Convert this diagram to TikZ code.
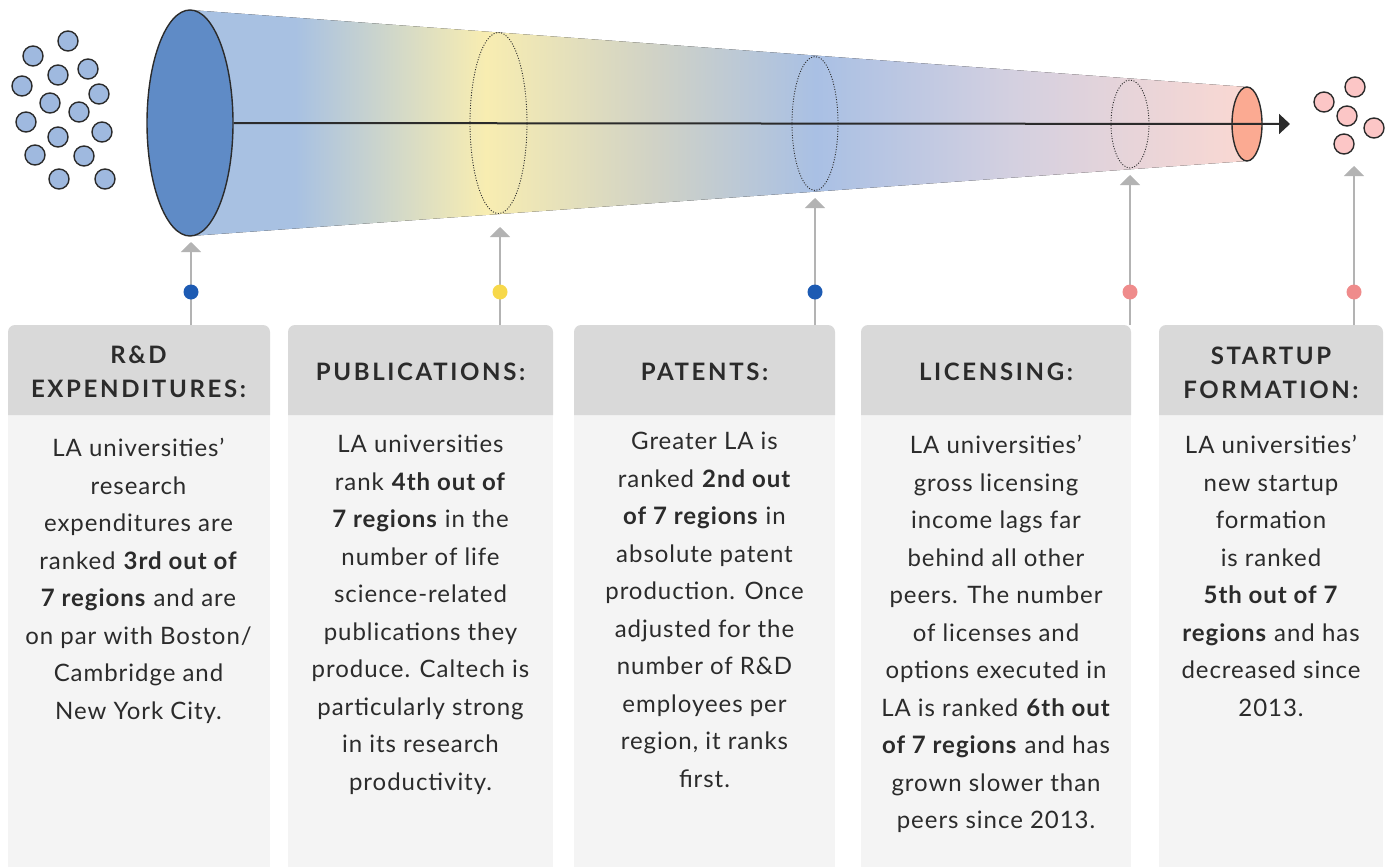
\documentclass[tikz,border=0pt]{standalone}
\usepackage{fontspec}
\setmainfont{Lato}
\usetikzlibrary{arrows.meta,shapes.geometric}
\definecolor{txt}{HTML}{2B2B2B}
\definecolor{hdrbg}{HTML}{D9D9D9}
\definecolor{bodybg}{HTML}{F4F4F4}
\definecolor{bigblue}{HTML}{5F8BC6}
\definecolor{smallblue}{HTML}{9FB9DF}
\definecolor{pinkc}{HTML}{FCC6C6}
\definecolor{salmon}{HTML}{FBAA92}
\definecolor{dotblue}{HTML}{1D5BB3}
\definecolor{dotyellow}{HTML}{F7D84A}
\definecolor{dotpink}{HTML}{EF8B8B}
\definecolor{graycon}{HTML}{B3B3B3}
\definecolor{outl}{HTML}{2B2B2B}
\definecolor{fA}{HTML}{A8C1E2}
\definecolor{fY}{HTML}{F8EDB1}
\definecolor{fM}{HTML}{D0D2C6}
\definecolor{fB}{HTML}{A9C0E4}
\definecolor{fL}{HTML}{D4D0E0}
\definecolor{fP}{HTML}{FAD8D2}
\pgfdeclarehorizontalshading{funnelshade}{100bp}{color(0bp)=(fA); color(25bp)=(fA); color(30bp)=(fA); color(39bp)=(fY); color(47bp)=(fM); color(54.6bp)=(fB); color(64bp)=(fL); color(75bp)=(fP); color(100bp)=(fP)}
\tikzset{
  lcirc/.style={circle, draw=outl, line width=1.4pt, fill=smallblue, minimum size=20pt, inner sep=0pt},
  rcirc/.style={circle, draw=outl, line width=1.4pt, fill=pinkc, minimum size=20pt, inner sep=0pt},
  dotring/.style={ellipse, draw=outl, line width=0.9pt, dash pattern=on 1pt off 1.6pt, inner sep=0pt},
  dotnode/.style={circle, minimum size=15pt, inner sep=0pt},
  con/.style={draw=graycon, line width=1.6pt, -{Triangle[width=20pt,length=10pt]}},
  hdr/.style={font=\fontsize{24}{34}\selectfont\bfseries\addfontfeature{LetterSpace=11}, text=txt, align=center, inner sep=0pt},
  body/.style={font=\fontsize{24}{37.5}\selectfont\addfontfeature{LetterSpace=4}, text=txt, align=center, inner sep=0pt, anchor=north},
}
\begin{document}
\begin{tikzpicture}[x=1pt,y=-1pt]
\useasboundingbox (0,0) rectangle (1389,867);
% funnel
\fill[shading=funnelshade] (190,10) -- (1247,87) -- (1247,161) -- (190,236) -- cycle;
\node[ellipse, draw=outl, line width=1.4pt, fill=bigblue, minimum width=86pt, minimum height=226pt, inner sep=0pt] (big) at (190,123) {};
\node[dotring, minimum width=57pt, minimum height=181pt] (r1) at (498.5,123) {};
\node[dotring, minimum width=46pt, minimum height=134pt] (r2) at (815,123.5) {};
\node[dotring, minimum width=38pt, minimum height=88pt] (r3) at (1130,124) {};
\node[ellipse, draw=outl, line width=1.4pt, fill=salmon, minimum width=30pt, minimum height=74pt, inner sep=0pt] (small) at (1247,124) {};
\coordinate (tipR) at (1290,124);
\draw[draw=outl, line width=2pt, -{Triangle[width=20pt,length=11pt]}] (big.east) -- (tipR);
% circles left
\foreach \x/\y [count=\i] in {68/41,33/56,58/75,88/69,22/86,99/94,50/103,79/112,26/122,102/132,58/137,35/155,84/156,59/179,105/179}
  \node[lcirc] (l\i) at (\x,\y) {};
% circles right
\foreach \x/\y [count=\i] in {1355/87,1324/102,1347/116,1374/128,1344/144}
  \node[rcirc] (rc\i) at (\x,\y) {};
% boxes
\foreach \a/\b/\n in {8/270/1,288/553/2,574/835/3,861/1131/4,1159/1383/5}{
  \fill[bodybg] (\a,415) rectangle (\b,867);
  \fill[hdrbg] (\a,415) [rounded corners=7pt] -- (\a,325) -- (\b,325) [sharp corners] -- (\b,415) -- cycle;
}
% connectors
\foreach \x/\t/\n in {191/242/1,500/227/2,815/198/3,1130/175/4,1354/166/5}{
  \coordinate (c\n) at (\x,325);
  \coordinate (t\n) at (\x,\t);
  \draw[con] (c\n) -- (t\n);
}
\node[dotnode, fill=dotblue] (d1) at (191,292) {};
\node[dotnode, fill=dotyellow] (d2) at (500,292) {};
\node[dotnode, fill=dotblue] (d3) at (815,292) {};
\node[dotnode, fill=dotpink] (d4) at (1130,292) {};
\node[dotnode, fill=dotpink] (d5) at (1354,292) {};
% headers
\node[hdr] (h1) at (138.5,372) {R\&D\\EXPENDITURES:};
\node[hdr] (h2) at (420.5,372) {PUBLICATIONS:};
\node[hdr] (h3) at (704.5,372) {PATENTS:};
\node[hdr] (h4) at (996,372) {LICENSING:};
\node[hdr] (h5) at (1271,373) {STARTUP\\FORMATION:};
% bodies
\node[body] (b1) at (138.5,438) {LA universities’\\research\\expenditures are\\ranked \textbf{3rd out of}\\\textbf{7 regions} and are\\on par with Boston/\\Cambridge and\\New York City.};
\node[body] (b2) at (420.5,435) {LA universities\\rank \textbf{4th out of}\\\textbf{7 regions} in the\\number of life\\science-related\\publications they\\produce. Caltech is\\particularly strong\\in its research\\productivity.};
\node[body] (b3) at (704.5,432) {Greater LA is\\ranked \textbf{2nd out}\\\textbf{of 7 regions} in\\absolute patent\\production. Once\\adjusted for the\\number of R\&D\\employees per\\region, it ranks\\first.};
\node[body] (b4) at (996,435) {LA universities’\\gross licensing\\income lags far\\behind all other\\peers. The number\\of licenses and\\options executed in\\LA is ranked \textbf{6th out}\\\textbf{of 7 regions} and has\\grown slower than\\peers since 2013.};
\node[body] (b5) at (1271,435) {LA universities’\\new startup\\formation\\is ranked\\\textbf{5th out of 7}\\\textbf{regions} and has\\decreased since\\2013.};
\end{tikzpicture}
\end{document}
